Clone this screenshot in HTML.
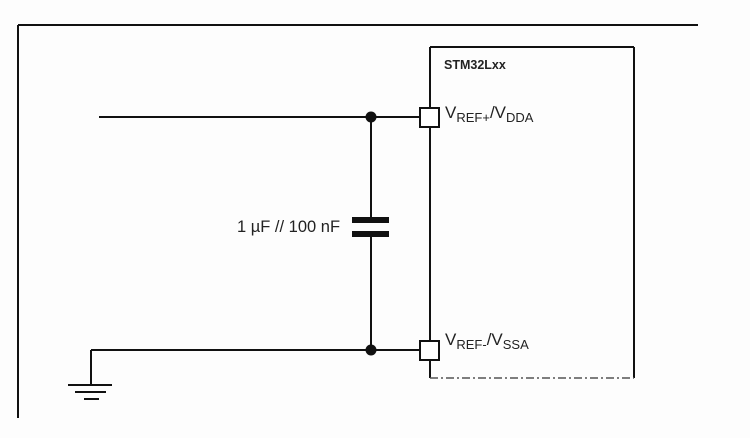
<!DOCTYPE html>
<html><head><style>
body{margin:0;background:#fff;}
svg{display:block;}
text{font-family:"Liberation Sans",sans-serif;fill:#222;}
</style></head><body>
<svg width="750" height="438" viewBox="0 0 750 438">
<rect width="750" height="438" fill="#fdfdfd"/>
<g stroke="#111" stroke-width="2" fill="none">
<line x1="18" y1="25" x2="698" y2="25"/>
<line x1="18" y1="25" x2="18" y2="418"/>
<line x1="430" y1="47" x2="634" y2="47"/>
<line x1="634" y1="47" x2="634" y2="378"/>
<line x1="430" y1="47" x2="430" y2="378"/>
<line x1="430" y1="378" x2="634" y2="378" stroke-dasharray="8,3,2,3" stroke-width="1.5" stroke="#555"/>
<line x1="99" y1="117" x2="420" y2="117"/>
<line x1="91" y1="350" x2="420" y2="350"/>
<line x1="91" y1="350" x2="91" y2="385"/>
<line x1="371" y1="117" x2="371" y2="219"/>
<line x1="371" y1="236" x2="371" y2="350"/>
<line x1="68" y1="385" x2="112" y2="385"/>
<line x1="75" y1="392" x2="106" y2="392"/>
<line x1="84" y1="399" x2="99" y2="399"/>
</g>
<rect x="352" y="217" width="37" height="6" fill="#111"/>
<rect x="352" y="231" width="37" height="6" fill="#111"/>
<circle cx="371" cy="117" r="5.5" fill="#111"/>
<circle cx="371" cy="350" r="5.5" fill="#111"/>
<rect x="420" y="108" width="19" height="19" fill="#fff" stroke="#111" stroke-width="2"/>
<rect x="420" y="341" width="19" height="19" fill="#fff" stroke="#111" stroke-width="2"/>
<text x="444" y="69" font-size="12.5" font-weight="bold">STM32Lxx</text>
<text x="445" y="118" font-size="17">V<tspan font-size="13" dy="4">REF+</tspan><tspan dy="-4">/V</tspan><tspan font-size="13" dy="4">DDA</tspan></text>
<text x="445" y="345" font-size="17">V<tspan font-size="13" dy="4">REF-</tspan><tspan dy="-4">/V</tspan><tspan font-size="13" dy="4">SSA</tspan></text>
<text x="237" y="232" font-size="16.5">1 µF // 100 nF</text>
</svg>
</body></html>
